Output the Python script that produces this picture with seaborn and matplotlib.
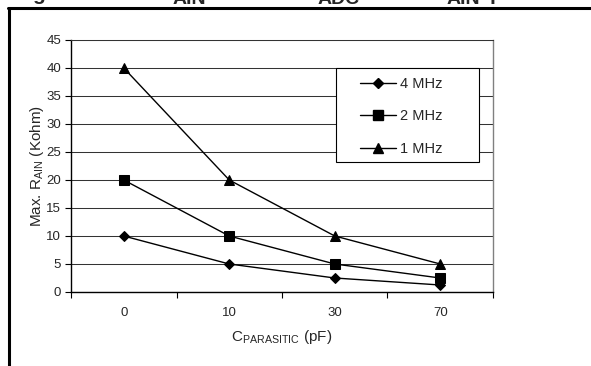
import matplotlib
matplotlib.use("Agg")
import matplotlib.pyplot as plt
from matplotlib.lines import Line2D
from matplotlib.patches import Rectangle
import numpy as np
import pandas as pd
import seaborn as sns

# data
cap_labels = ['0', '10', '30', '70']
r_4mhz = [10, 5, 2.5, 1.25]
r_2mhz = [20, 10, 5, 2.5]
r_1mhz = [40, 20, 10, 5]
series_names = ['4 MHz', '2 MHz', '1 MHz']
y_ticks = list(range(0, 50, 5))

df = pd.DataFrame({
    'cap': cap_labels * 3,
    'r': r_4mhz + r_2mhz + r_1mhz,
    'freq': [n for n in series_names for _ in cap_labels],
})

sns.set_style('white')
plt.rcParams['font.family'] = ['Liberation Sans', 'DejaVu Sans']
plt.rcParams['mathtext.fontset'] = 'custom'
plt.rcParams['mathtext.rm'] = 'Liberation Sans'

fig = plt.figure(figsize=(5.91, 3.66), dpi=100)
ax = fig.add_axes([71/591, 1-292/366, 422/591, 252/366])

sns.pointplot(data=df, x='cap', y='r', hue='freq', order=cap_labels,
              hue_order=series_names, palette=['black']*3,
              markers=['D', 's', '^'], linestyles='-', errorbar=None,
              markersize=5, linewidth=1, legend=False, ax=ax)
# marker tweaks per series
sizes = [5, 6.5, 7]
for line, ms in zip(ax.lines[:3], sizes):
    line.set_markersize(ms)

ax.set_xlim(-0.5, 3.5)
ax.set_ylim(0, 45)
ax.set_yticks(y_ticks)
ax.grid(axis='y', color='#333333', lw=0.75)
ax.grid(axis='x', visible=False)
ax.set_axisbelow(True)

ax.set_xticks(range(len(cap_labels)))
ax.set_xticklabels(cap_labels)
ax.set_xticks(np.arange(-0.5, 4, 1), minor=True)
ax.tick_params(axis='x', which='major', length=0, pad=11, labelsize=9.5)
ax.tick_params(axis='x', which='minor', length=4, direction='out', color='black', width=0.8)
ax.tick_params(axis='y', length=4, direction='out', color='black', width=0.8, labelsize=9.5, pad=3)
ax.tick_params(bottom=True, left=True, which='both')

for s in ['left', 'bottom']:
    ax.spines[s].set_color('black')
    ax.spines[s].set_linewidth(1)
ax.spines['right'].set_color('#808080')
ax.spines['top'].set_color('#333333')
ax.spines['right'].set_linewidth(1)
ax.spines['top'].set_linewidth(0.75)

ax.set_xlabel(r'C$_\mathregular{PARASITIC}$ (pF)', fontsize=11, labelpad=6)
ax.set_ylabel(r'Max. R$_\mathregular{AIN}$ (Kohm)', fontsize=11, labelpad=0)

# legend: box drawn separately, entries inside
ax.add_patch(Rectangle((0.628, 0.516), 0.339, 0.373, transform=ax.transAxes,
                       facecolor='white', edgecolor='black', lw=0.8, zorder=5))
handles = [Line2D([], [], color='black', lw=1, marker=m, markersize=ms)
           for m, ms in zip(['D', 's', '^'], sizes)]
leg = ax.legend(handles, series_names, loc='upper left', bbox_to_anchor=(0.66, 0.893),
                frameon=False, fontsize=10.5, handlelength=2.5, handletextpad=0.25,
                labelspacing=1.25, borderpad=0.2)
leg.set_zorder(6)

# outer frame of the page crop
fig.add_artist(Line2D([8/591, 1], [1-8/366, 1-8/366], color='black', lw=2.2,
                      transform=fig.transFigure))
fig.add_artist(Line2D([9/591, 9/591], [0, 1-8/366], color='black', lw=2.2,
                      transform=fig.transFigure))

# cut-off caption fragments above the frame (clipped in the reference too)
frag = [('g', 32, 0, 15), ('AIN', 173, 4, 14), ('ADC', 318, 4, 14),
        ('AIN', 447, 4, 14), ('p', 490, 0, 15)]
for txt, x, base, fs in frag:
    fig.text(x/591, 1-base/366, txt, ha='left', va='baseline',
             fontsize=fs, fontweight='bold')

fig.savefig('out.png', dpi=100)
